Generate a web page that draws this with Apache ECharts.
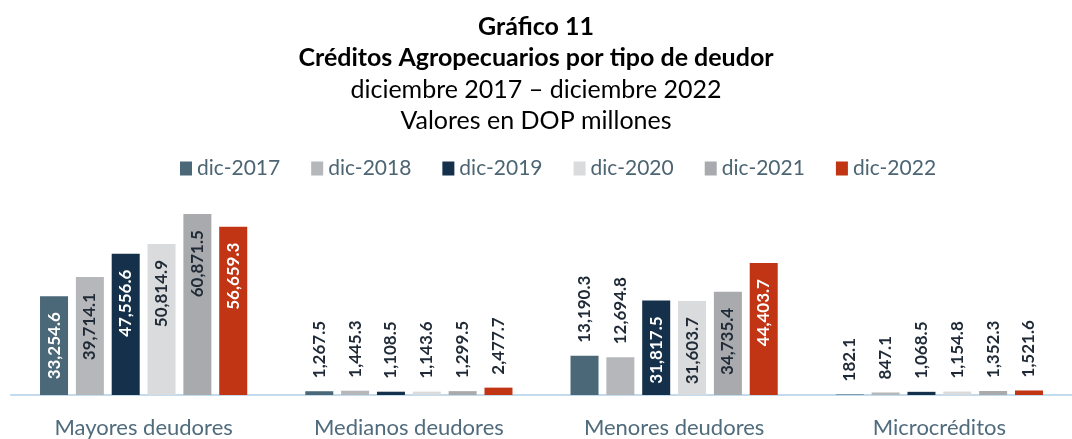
<!DOCTYPE html>
<html>
<head>
<meta charset="utf-8">
<script src="https://cdn.jsdelivr.net/npm/echarts@6/dist/echarts.min.js"></script>
<style>
html,body{margin:0;padding:0;background:#fff;}
#chart{width:1072px;height:439px;}
</style>
</head>
<body>
<div id="chart"></div>
<script>
// datos
var categorias = ['Mayores deudores', 'Medianos deudores', 'Menores deudores', 'Microcréditos'];
var nombres = ['dic-2017', 'dic-2018', 'dic-2019', 'dic-2020', 'dic-2021', 'dic-2022'];
var dic2017 = [33254.6, 1267.5, 13190.3, 182.1];
var dic2018 = [39714.1, 1445.3, 12694.8, 847.1];
var dic2019 = [47556.6, 1108.5, 31817.5, 1068.5];
var dic2020 = [50814.9, 1143.6, 31603.7, 1154.8];
var dic2021 = [60871.5, 1299.5, 34735.4, 1352.3];
var dic2022 = [56659.3, 2477.7, 44403.7, 1521.6];

var valores = [dic2017, dic2018, dic2019, dic2020, dic2021, dic2022];
var colores = ['#4b6878', '#b5b7ba', '#14304a', '#dadbdd', '#a8aaad', '#c13414'];
var colorTexto = ['#ffffff', '#1f2a36', '#ffffff', '#1f2a36', '#1f2a36', '#ffffff'];
var FUENTE = 'Lato, "Open Sans", sans-serif';

function fmt(v){
	return v.toLocaleString('en-US', {minimumFractionDigits:1, maximumFractionDigits:1});
}

var series = [];
for(var s=0;s<valores.length;s++){
	var datos = [];
	for(var i=0;i<valores[s].length;i++){
		var v = valores[s][i];
		var dentro = v > 20000;
		datos.push({
			value: v,
			label: dentro ? {
				position: 'insideTop', distance: 16, rotate: 90,
				align: 'right', verticalAlign: 'middle',
				color: colorTexto[s]
			} : {
				position: 'top', distance: 13, rotate: 90,
				align: 'left', verticalAlign: 'middle',
				color: '#1f2a36'
			}
		});
	}
	series.push({
		name: nombres[s],
		type: 'bar',
		barWidth: 28,
		barGap: '28%',
		itemStyle: {color: colores[s]},
		label: {
			show: true,
			fontFamily: FUENTE,
			fontWeight: 'bold',
			fontSize: 17,
			formatter: function(p){ return fmt(p.value); }
		},
		data: datos
	});
}

function titulo(txt, top, bold){
	return {text: txt, left: 'center', top: top, padding: 0,
		textStyle: {fontFamily: FUENTE, fontSize: 25, fontWeight: bold ? 'bold' : 'normal', color: '#000'}};
}

var myChart = echarts.init(document.getElementById('chart'), null, {renderer:'canvas'});
myChart.setOption({
	animation: false,
	title: [
		titulo('Gráfico 11', 14, true),
		titulo('Créditos Agropecuarios por tipo de deudor', 45, true),
		titulo('diciembre 2017 – diciembre 2022', 77, false),
		titulo('Valores en DOP millones', 108, false)
	],
	legend: {
		data: nombres,
		left: 175,
		top: 153,
		itemWidth: 12,
		itemHeight: 14,
		itemGap: 31,
		icon: 'rect',
		textStyle: {fontFamily: FUENTE, fontSize: 21, color: '#4d6573'}
	},
	grid: {left: 11, right: -10, top: 187, bottom: 42},
	xAxis: {
		type: 'category',
		data: categorias,
		axisLine: {lineStyle: {color: '#c3dbec', width: 2}},
		axisTick: {show: false},
		axisLabel: {fontFamily: FUENTE, fontSize: 22, color: '#4f6b7c', margin: 22}
	},
	yAxis: {
		type: 'value',
		min: 0,
		max: 70000,
		show: false,
		splitLine: {show: false}
	},
	series: series
});
</script>
</body>
</html>
